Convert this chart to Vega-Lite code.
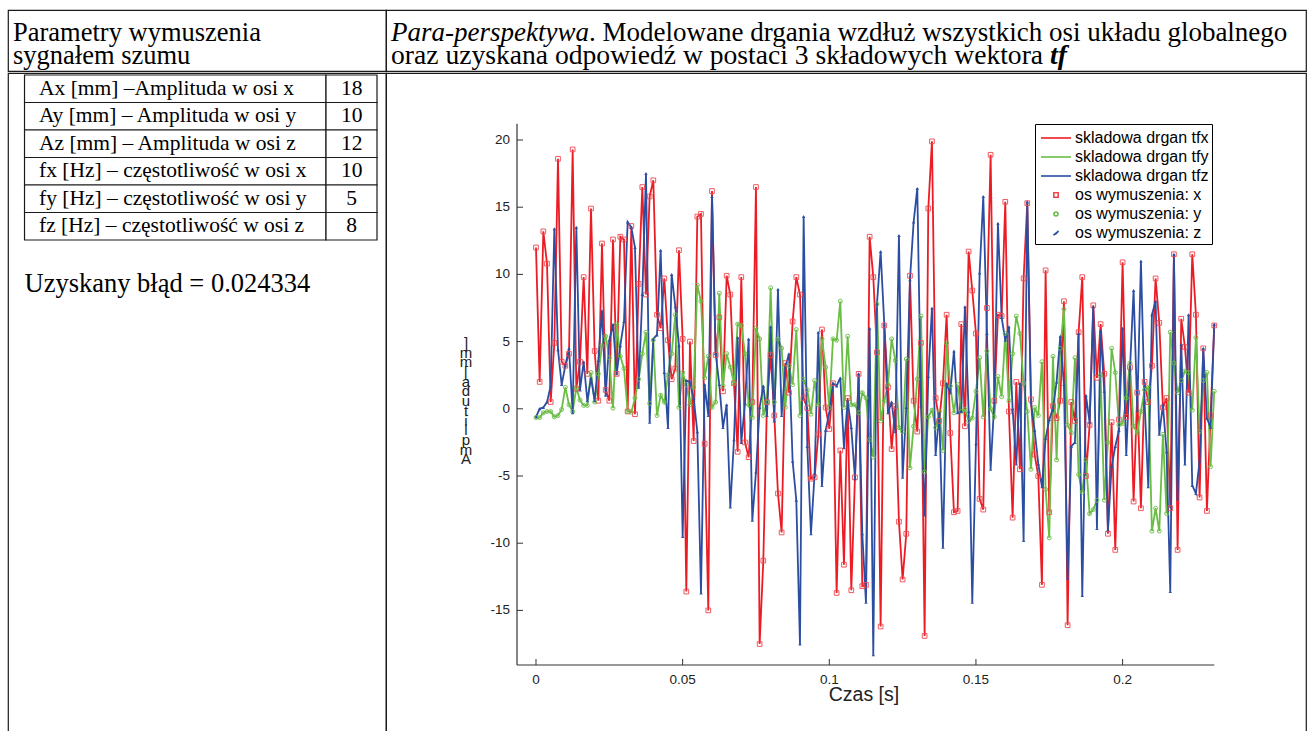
{
"$schema": "https://vega.github.io/schema/vega-lite/v6.json",
"padding": {"left": 7, "top": 9, "right": 0, "bottom": 0},
"background": "white",
"spacing": 0,
"config": {
  "view": {"stroke": "#1a1a1a", "strokeWidth": 1.2},
  "concat": {"spacing": 0}
},
"datasets": {
"tab": [
{"r":"1","l":"Ax [mm] –Amplituda w osi x","v":"18"},
{"r":"2","l":"Ay [mm] – Amplituda w osi y","v":"10"},
{"r":"3","l":"Az [mm] – Amplituda w osi z","v":"12"},
{"r":"4","l":"fx [Hz] – częstotliwość w osi x","v":"10"},
{"r":"5","l":"fy [Hz] – częstotliwość w osi y","v":"5"},
{"r":"6","l":"fz [Hz] – częstotliwość w osi z","v":"8"}
],
"xt": [{"v":0,"s":"0"},{"v":0.05,"s":"0.05"},{"v":0.1,"s":"0.1"},{"v":0.15,"s":"0.15"},{"v":0.2,"s":"0.2"}],
"yt": [{"v":-15,"s":"-15"},{"v":-10,"s":"-10"},{"v":-5,"s":"-5"},{"v":0,"s":"0"},{"v":5,"s":"5"},{"v":10,"s":"10"},{"v":15,"s":"15"},{"v":20,"s":"20"}],
"d": [
{"t":0,"x":12.0,"y":-0.65,"z":-0.6},
{"t":0.00125,"x":2.0,"y":-0.65,"z":0.0},
{"t":0.0025,"x":13.2,"y":-0.3,"z":0.1},
{"t":0.00375,"x":10.8,"y":-0.2,"z":0.5},
{"t":0.005,"x":0.5,"y":-0.2,"z":1.7},
{"t":0.00625,"x":4.9,"y":-0.6,"z":13.4},
{"t":0.0075,"x":18.6,"y":-0.5,"z":4.4},
{"t":0.00875,"x":3.5,"y":-0.05,"z":1.8},
{"t":0.01,"x":3.2,"y":1.6,"z":3.2},
{"t":0.01125,"x":4.1,"y":0.3,"z":4.5},
{"t":0.0125,"x":19.3,"y":-0.2,"z":-0.3},
{"t":0.01375,"x":1.5,"y":1.55,"z":13.5},
{"t":0.015,"x":3.5,"y":0.65,"z":1.4},
{"t":0.01625,"x":9.8,"y":0.25,"z":3.5},
{"t":0.0175,"x":2.6,"y":0.25,"z":0.6},
{"t":0.01875,"x":14.9,"y":2.7,"z":2.3},
{"t":0.02,"x":4.3,"y":0.5,"z":0.6},
{"t":0.02125,"x":0.6,"y":2.6,"z":3.6},
{"t":0.0225,"x":12.3,"y":4.7,"z":7.3},
{"t":0.02375,"x":1.4,"y":5.4,"z":1.0},
{"t":0.025,"x":0.6,"y":3.8,"z":5.1},
{"t":0.02625,"x":12.6,"y":0.05,"z":6.3},
{"t":0.0275,"x":2.6,"y":6.3,"z":2.6},
{"t":0.02875,"x":12.8,"y":3.9,"z":4.7},
{"t":0.03,"x":12.6,"y":3.0,"z":6.5},
{"t":0.03125,"x":-0.2,"y":-0.2,"z":13.9},
{"t":0.0325,"x":13.6,"y":-0.25,"z":13.5},
{"t":0.03375,"x":-0.4,"y":0.8,"z":12.0},
{"t":0.035,"x":9.3,"y":2.2,"z":1.6},
{"t":0.03625,"x":16.5,"y":4.1,"z":8.5},
{"t":0.0375,"x":8.5,"y":5.7,"z":17.5},
{"t":0.03875,"x":15.8,"y":0.4,"z":-1.0},
{"t":0.04,"x":17.0,"y":5.1,"z":5.2},
{"t":0.04125,"x":7.0,"y":-0.5,"z":5.5},
{"t":0.0425,"x":6.0,"y":1.0,"z":11.8},
{"t":0.04375,"x":9.7,"y":0.5,"z":2.7},
{"t":0.045,"x":5.1,"y":2.5,"z":-1.4},
{"t":0.04625,"x":2.2,"y":4.1,"z":10.0},
{"t":0.0475,"x":3.0,"y":7.0,"z":7.6},
{"t":0.04875,"x":11.8,"y":0.1,"z":4.7},
{"t":0.05,"x":5.2,"y":2.7,"z":-9.5},
{"t":0.05125,"x":-13.6,"y":1.8,"z":2.1},
{"t":0.0525,"x":5.0,"y":0.3,"z":2.0},
{"t":0.05375,"x":-2.4,"y":1.6,"z":0.8},
{"t":0.055,"x":14.3,"y":9.2,"z":-1.7},
{"t":0.05625,"x":14.5,"y":8.0,"z":-13.7},
{"t":0.0575,"x":-2.6,"y":2.3,"z":1.8},
{"t":0.05875,"x":-15.0,"y":3.9,"z":-0.5},
{"t":0.06,"x":16.2,"y":0.1,"z":15.8},
{"t":0.06125,"x":4.0,"y":0.5,"z":4.1},
{"t":0.0625,"x":6.8,"y":8.6,"z":1.8},
{"t":0.06375,"x":1.3,"y":1.7,"z":-1.4},
{"t":0.065,"x":9.9,"y":4.1,"z":0.3},
{"t":0.06625,"x":8.5,"y":3.1,"z":-7.3},
{"t":0.0675,"x":1.9,"y":1.9,"z":-2.3},
{"t":0.06875,"x":-3.2,"y":6.3,"z":5.3},
{"t":0.07,"x":9.8,"y":6.2,"z":-2.5},
{"t":0.07125,"x":-2.5,"y":4.1,"z":0.4},
{"t":0.0725,"x":-3.6,"y":0.3,"z":5.2},
{"t":0.07375,"x":0.5,"y":-0.65,"z":-8.3},
{"t":0.075,"x":16.5,"y":6.0,"z":-4.7},
{"t":0.07625,"x":-17.5,"y":5.2,"z":0.1},
{"t":0.0775,"x":-11.3,"y":-0.5,"z":1.7},
{"t":0.07875,"x":0.5,"y":0.5,"z":-0.5},
{"t":0.08,"x":4.0,"y":9.0,"z":6.1},
{"t":0.08125,"x":-0.5,"y":0.5,"z":-0.9},
{"t":0.0825,"x":-6.3,"y":5.2,"z":8.9},
{"t":0.08375,"x":-9.2,"y":4.5,"z":-0.5},
{"t":0.085,"x":3.4,"y":0.1,"z":3.1},
{"t":0.08625,"x":1.2,"y":3.2,"z":4.1},
{"t":0.0875,"x":6.5,"y":1.8,"z":-3.9},
{"t":0.08875,"x":9.8,"y":5.9,"z":-6.8},
{"t":0.09,"x":8.5,"y":-0.5,"z":-17.5},
{"t":0.09125,"x":0.8,"y":2.2,"z":14.3},
{"t":0.0925,"x":0.05,"y":1.4,"z":-2.8},
{"t":0.09375,"x":-5.2,"y":-0.4,"z":-9.3},
{"t":0.095,"x":-5.1,"y":2.1,"z":-4.8},
{"t":0.09625,"x":-1.9,"y":0.3,"z":5.7},
{"t":0.0975,"x":5.9,"y":5.2,"z":-5.7},
{"t":0.09875,"x":0.1,"y":3.1,"z":-1.6},
{"t":0.1,"x":-1.5,"y":0.1,"z":-0.3},
{"t":0.10125,"x":1.9,"y":5.2,"z":1.9},
{"t":0.1025,"x":-13.7,"y":5.1,"z":1.7},
{"t":0.10375,"x":-3.1,"y":8.0,"z":2.3},
{"t":0.105,"x":-11.6,"y":0.1,"z":-2.9},
{"t":0.10625,"x":0.8,"y":5.4,"z":0.6},
{"t":0.1075,"x":-13.5,"y":0.3,"z":-1.4},
{"t":0.10875,"x":-5.1,"y":0.3,"z":-5.2},
{"t":0.11,"x":2.6,"y":-0.3,"z":2.6},
{"t":0.11125,"x":-13.2,"y":1.2,"z":-9.3},
{"t":0.1125,"x":-13.1,"y":0.8,"z":-14.4},
{"t":0.11375,"x":12.8,"y":-2.3,"z":6.0},
{"t":0.115,"x":9.8,"y":-3.6,"z":-18.3},
{"t":0.11625,"x":4.2,"y":7.8,"z":7.8},
{"t":0.1175,"x":-16.2,"y":-0.9,"z":11.7},
{"t":0.11875,"x":6.2,"y":0.6,"z":6.3},
{"t":0.12,"x":1.6,"y":1.8,"z":-0.3},
{"t":0.12125,"x":-3.0,"y":5.2,"z":0.5},
{"t":0.1225,"x":0.2,"y":3.6,"z":-1.7},
{"t":0.12375,"x":-8.4,"y":-1.4,"z":12.9},
{"t":0.125,"x":-12.7,"y":-1.7,"z":-5.1},
{"t":0.12625,"x":-9.3,"y":3.7,"z":0.1},
{"t":0.1275,"x":9.9,"y":-4.4,"z":9.6},
{"t":0.12875,"x":0.6,"y":-1.3,"z":13.9},
{"t":0.13,"x":-1.7,"y":2.2,"z":16.4},
{"t":0.13125,"x":4.9,"y":6.9,"z":0.2},
{"t":0.1325,"x":-16.9,"y":-4.7,"z":-7.9},
{"t":0.13375,"x":14.9,"y":-0.6,"z":2.4},
{"t":0.135,"x":19.9,"y":-0.1,"z":7.5},
{"t":0.13625,"x":0.8,"y":-1.4,"z":-3.4},
{"t":0.1375,"x":-0.9,"y":-0.2,"z":-0.3},
{"t":0.13875,"x":1.9,"y":-3.1,"z":-10.3},
{"t":0.14,"x":7.0,"y":4.9,"z":1.9},
{"t":0.14125,"x":-1.8,"y":1.7,"z":1.2},
{"t":0.1425,"x":-7.7,"y":-0.3,"z":4.3},
{"t":0.14375,"x":-7.6,"y":1.8,"z":-0.3},
{"t":0.145,"x":6.3,"y":-0.2,"z":-0.2},
{"t":0.14625,"x":-1.3,"y":-0.05,"z":7.6},
{"t":0.1475,"x":11.7,"y":-0.9,"z":-0.2},
{"t":0.14875,"x":8.8,"y":-0.7,"z":-14.4},
{"t":0.15,"x":5.6,"y":1.3,"z":-2.6},
{"t":0.15125,"x":-6.7,"y":3.8,"z":10.1},
{"t":0.1525,"x":-7.5,"y":-0.6,"z":15.8},
{"t":0.15375,"x":7.5,"y":4.3,"z":5.6},
{"t":0.155,"x":18.9,"y":0.0,"z":-4.5},
{"t":0.15625,"x":0.6,"y":-0.6,"z":0.5},
{"t":0.1575,"x":7.0,"y":2.4,"z":13.8},
{"t":0.15875,"x":6.9,"y":0.9,"z":6.8},
{"t":0.16,"x":15.4,"y":5.6,"z":5.1},
{"t":0.16125,"x":-0.2,"y":0.6,"z":6.1},
{"t":0.1625,"x":-8.1,"y":4.1,"z":0.0},
{"t":0.16375,"x":2.0,"y":6.9,"z":-4.1},
{"t":0.165,"x":-4.5,"y":5.6,"z":1.9},
{"t":0.16625,"x":9.7,"y":1.9,"z":-9.8},
{"t":0.1675,"x":15.3,"y":-0.2,"z":15.4},
{"t":0.16875,"x":0.7,"y":-4.5,"z":0.5},
{"t":0.17,"x":-3.4,"y":0.1,"z":-1.6},
{"t":0.17125,"x":-5.0,"y":-0.5,"z":-4.1},
{"t":0.1725,"x":-13.1,"y":3.5,"z":-5.8},
{"t":0.17375,"x":10.3,"y":-6.0,"z":-2.2},
{"t":0.175,"x":-7.7,"y":-9.6,"z":-0.8},
{"t":0.17625,"x":0.2,"y":3.9,"z":0.0},
{"t":0.1775,"x":-0.7,"y":-3.8,"z":2.0},
{"t":0.17875,"x":0.6,"y":4.5,"z":5.4},
{"t":0.18,"x":8.0,"y":7.4,"z":1.8},
{"t":0.18125,"x":-16.1,"y":-1.2,"z":-12.6},
{"t":0.1825,"x":0.5,"y":-1.8,"z":-2.8},
{"t":0.18375,"x":-0.9,"y":3.8,"z":-2.5},
{"t":0.185,"x":5.7,"y":-4.9,"z":5.6},
{"t":0.18625,"x":9.8,"y":-6.2,"z":-13.9},
{"t":0.1875,"x":-5.0,"y":-3.8,"z":1.0},
{"t":0.18875,"x":-1.2,"y":-7.8,"z":-1.0},
{"t":0.19,"x":7.7,"y":-7.5,"z":7.6},
{"t":0.19125,"x":2.3,"y":-6.8,"z":-8.9},
{"t":0.1925,"x":6.3,"y":2.5,"z":5.8},
{"t":0.19375,"x":2.6,"y":-6.8,"z":1.3},
{"t":0.195,"x":-9.3,"y":-2.5,"z":-9.0},
{"t":0.19625,"x":-1.0,"y":4.5,"z":-4.3},
{"t":0.1975,"x":-10.5,"y":2.7,"z":-2.8},
{"t":0.19875,"x":-0.8,"y":-1.2,"z":-1.6},
{"t":0.2,"x":10.9,"y":-1.1,"z":6.0},
{"t":0.20125,"x":-0.6,"y":0.8,"z":-3.4},
{"t":0.2025,"x":3.1,"y":3.4,"z":2.9},
{"t":0.20375,"x":-6.9,"y":-1.3,"z":8.8},
{"t":0.205,"x":1.2,"y":-1.8,"z":-0.1},
{"t":0.20625,"x":-7.4,"y":-0.2,"z":11.0},
{"t":0.2075,"x":2.0,"y":1.4,"z":0.5},
{"t":0.20875,"x":0.5,"y":1.6,"z":-5.8},
{"t":0.21,"x":3.2,"y":-9.1,"z":7.0},
{"t":0.21125,"x":9.7,"y":-7.4,"z":8.0},
{"t":0.2125,"x":6.4,"y":-9.1,"z":-1.9},
{"t":0.21375,"x":0.1,"y":-1.9,"z":0.3},
{"t":0.215,"x":0.8,"y":-7.8,"z":-3.2},
{"t":0.21625,"x":-7.4,"y":5.7,"z":-13.6},
{"t":0.2175,"x":11.5,"y":3.4,"z":11.5},
{"t":0.21875,"x":-10.5,"y":1.2,"z":-6.7},
{"t":0.22,"x":6.7,"y":2.1,"z":4.8},
{"t":0.22125,"x":4.6,"y":2.8,"z":-4.1},
{"t":0.2225,"x":1.2,"y":2.7,"z":7.0},
{"t":0.22375,"x":11.5,"y":-0.1,"z":-5.7},
{"t":0.225,"x":7.0,"y":5.3,"z":-6.3},
{"t":0.22625,"x":-6.6,"y":-1.7,"z":-3.9},
{"t":0.2275,"x":4.5,"y":2.1,"z":4.5},
{"t":0.22875,"x":-7.6,"y":2.7,"z":-0.7},
{"t":0.23,"x":-0.5,"y":-4.3,"z":-1.4},
{"t":0.23125,"x":6.2,"y":1.3,"z":6.3}
]
},
"vconcat": [
{
"spacing": 0,
"bounds": "flush",
"hconcat": [
{
"width": 378, "height": 61,
"data": {"values": [{"k": 1, "s": "Parametry wymuszenia"}, {"k": 2, "s": "sygnałem szumu"}]},
"mark": {"type": "text", "align": "left", "baseline": "alphabetic", "font": "Liberation Serif", "fontSize": 26.5, "color": "black", "dx": 5},
"encoding": {
"x": {"datum": 0, "type": "quantitative", "scale": {"domain": [0, 1]}, "axis": null},
"y": {"field": "k", "type": "quantitative", "scale": {"domain": [-0.348, 2.304], "reverse": true, "nice": false, "zero": false}, "axis": null},
"text": {"field": "s"}
}
},
{
"width": 920, "height": 61,
"encoding": {
"x": {"datum": 0, "type": "quantitative", "scale": {"domain": [0, 1]}, "axis": null},
"y": {"field": "k", "type": "quantitative", "scale": {"domain": [-0.348, 2.304], "reverse": true, "nice": false, "zero": false}, "axis": null},
"text": {"field": "s"}
},
"layer": [
{"data": {"values": [{"k": 1, "s": "Para-perspektywa"}]},
 "mark": {"type": "text", "align": "left", "baseline": "alphabetic", "font": "Liberation Serif", "fontSize": 27, "fontStyle": "italic", "color": "black", "dx": 5}},
{"data": {"values": [{"k": 1, "s": ". Modelowane drgania wzdłuż wszystkich osi układu globalnego"}]},
 "mark": {"type": "text", "align": "left", "baseline": "alphabetic", "font": "Liberation Serif", "fontSize": 27, "color": "black", "dx": 203}},
{"data": {"values": [{"k": 2, "s": "oraz uzyskana odpowiedź w postaci 3 składowych wektora"}]},
 "mark": {"type": "text", "align": "left", "baseline": "alphabetic", "font": "Liberation Serif", "fontSize": 27.6, "color": "black", "dx": 5}},
{"data": {"values": [{"k": 2, "s": "tf"}]},
 "mark": {"type": "text", "align": "left", "baseline": "alphabetic", "font": "Liberation Serif", "fontSize": 27.6, "fontStyle": "italic", "fontWeight": "bold", "color": "black", "dx": 664}}
]
}
]
},
{
"spacing": 0,
"bounds": "flush",
"hconcat": [
{
"width": 378, "height": 662,
"layer": [
{"data": {"name": "tab"},
 "mark": {"type": "rect", "fill": "white", "stroke": "#1a1a1a", "strokeWidth": 1.2},
 "encoding": {
  "y": {"field": "r", "type": "ordinal", "scale": {"type": "band", "domain": ["1","2","3","4","5","6","g","u"], "range": [2, 222], "paddingInner": 0, "paddingOuter": 0}, "axis": null},
  "x": {"datum": 0.0437, "type": "quantitative", "scale": {"domain": [0, 1], "nice": false, "zero": false}, "axis": null},
  "x2": {"datum": 0.8413}
 }},
{"data": {"name": "tab"},
 "mark": {"type": "rect", "fill": "white", "stroke": "#1a1a1a", "strokeWidth": 1.2},
 "encoding": {
  "y": {"field": "r", "type": "ordinal", "axis": null},
  "x": {"datum": 0.8413, "type": "quantitative", "axis": null},
  "x2": {"datum": 0.9762}
 }},
{"data": {"name": "tab"},
 "mark": {"type": "text", "align": "left", "baseline": "middle", "font": "Liberation Serif", "fontSize": 21.5, "color": "black"},
 "encoding": {
  "y": {"field": "r", "type": "ordinal", "axis": null},
  "x": {"datum": 0.082, "type": "quantitative", "axis": null},
  "text": {"field": "l"}
 }},
{"data": {"name": "tab"},
 "mark": {"type": "text", "align": "center", "baseline": "middle", "font": "Liberation Serif", "fontSize": 21.5, "color": "black"},
 "encoding": {
  "y": {"field": "r", "type": "ordinal", "axis": null},
  "x": {"datum": 0.9093, "type": "quantitative", "axis": null},
  "text": {"field": "v"}
 }},
{"data": {"values": [{"r": "u", "s": "Uzyskany błąd = 0.024334"}]},
 "mark": {"type": "text", "align": "left", "baseline": "middle", "font": "Liberation Serif", "fontSize": 26.5, "color": "black", "dy": 3},
 "encoding": {
  "y": {"field": "r", "type": "ordinal", "axis": null},
  "x": {"datum": 0.0437, "type": "quantitative", "axis": null},
  "text": {"field": "s"}
 }}
]
},
{
"width": 920, "height": 662,
"data": {"name": "d"},
"layer": [
{"mark": {"type": "line", "color": "#ed1c24", "strokeWidth": 1.8},
 "encoding": {
  "x": {"field": "t", "type": "quantitative", "scale": {"domain": [-0.051142, 0.26253], "nice": false, "zero": false}, "axis": null},
  "y": {"field": "x", "type": "quantitative", "scale": {"domain": [-24.271, 24.985], "nice": false, "zero": false}, "axis": null}
 }},
{"mark": {"type": "line", "color": "#6abd45", "strokeWidth": 1.8},
 "encoding": {
  "x": {"field": "t", "type": "quantitative", "axis": null},
  "y": {"field": "y", "type": "quantitative", "axis": null}
 }},
{"mark": {"type": "line", "color": "#2c4ea2", "strokeWidth": 1.8},
 "encoding": {
  "x": {"field": "t", "type": "quantitative", "axis": null},
  "y": {"field": "z", "type": "quantitative", "axis": null}
 }},
{"mark": {"type": "point", "shape": "square", "size": 22, "filled": false, "color": "#f0484f", "strokeWidth": 1, "opacity": 0.9},
 "encoding": {
  "x": {"field": "t", "type": "quantitative", "axis": null},
  "y": {"field": "x", "type": "quantitative", "axis": null}
 }},
{"mark": {"type": "point", "shape": "circle", "size": 16, "filled": false, "color": "#6abd45", "strokeWidth": 1, "opacity": 0.9},
 "encoding": {
  "x": {"field": "t", "type": "quantitative", "axis": null},
  "y": {"field": "y", "type": "quantitative", "axis": null}
 }},
{"mark": {"type": "point", "shape": "triangle-up", "size": 12, "filled": true, "color": "#2c4ea2", "opacity": 0.95},
 "encoding": {
  "x": {"field": "t", "type": "quantitative", "axis": null},
  "y": {"field": "z", "type": "quantitative", "axis": null}
 }},
{"data": {"values": [{}]},
 "mark": {"type": "rule", "color": "#333333", "strokeWidth": 1.2},
 "encoding": {
  "x": {"datum": -0.006478, "type": "quantitative", "axis": null},
  "y": {"datum": -19.063, "type": "quantitative", "axis": null},
  "y2": {"datum": 21.2}
 }},
{"data": {"values": [{}]},
 "mark": {"type": "rule", "color": "#333333", "strokeWidth": 1.2},
 "encoding": {
  "x": {"datum": -0.006478, "type": "quantitative", "axis": null},
  "x2": {"datum": 0.23125},
  "y": {"datum": -19.063, "type": "quantitative", "axis": null}
 }},
{"data": {"name": "xt"},
 "mark": {"type": "rule", "color": "#333333", "strokeWidth": 1},
 "encoding": {
  "x": {"field": "v", "type": "quantitative", "axis": null},
  "y": {"datum": -19.063, "type": "quantitative", "axis": null},
  "y2": {"datum": -18.617}
 }},
{"data": {"name": "yt"},
 "mark": {"type": "rule", "color": "#333333", "strokeWidth": 1},
 "encoding": {
  "y": {"field": "v", "type": "quantitative", "axis": null},
  "x": {"datum": -0.006478, "type": "quantitative", "axis": null},
  "x2": {"datum": -0.004432}
 }},
{"data": {"name": "xt"},
 "mark": {"type": "text", "align": "center", "baseline": "top", "font": "Liberation Sans", "fontSize": 13.5, "color": "#222222", "dy": 8},
 "encoding": {
  "x": {"field": "v", "type": "quantitative", "axis": null},
  "y": {"datum": -19.063, "type": "quantitative", "axis": null},
  "text": {"field": "s"}
 }},
{"data": {"name": "yt"},
 "mark": {"type": "text", "align": "right", "baseline": "middle", "font": "Liberation Sans", "fontSize": 13.5, "color": "#222222", "dx": -7},
 "encoding": {
  "y": {"field": "v", "type": "quantitative", "axis": null},
  "x": {"datum": -0.006478, "type": "quantitative", "axis": null},
  "text": {"field": "s"}
 }},
{"data": {"values": [{"s": "Czas [s]"}]},
 "mark": {"type": "text", "align": "center", "baseline": "middle", "font": "Liberation Sans", "fontSize": 19.5, "color": "#222222", "dy": 30},
 "encoding": {
  "x": {"datum": 0.11183, "type": "quantitative", "axis": null},
  "y": {"datum": -19.063, "type": "quantitative", "axis": null},
  "text": {"field": "s"}
 }},
{"data": {"values": [{"s": ["]", "m", "m", "[", " ", "a", "d", "u", "t", "i", "l", "p", "m", "A"]}]},
 "mark": {"type": "text", "align": "center", "baseline": "middle", "font": "Liberation Sans", "fontSize": 15, "lineHeight": 9.7, "color": "#222222"},
 "encoding": {
  "x": {"datum": -0.02387, "type": "quantitative", "axis": null},
  "y": {"datum": 4.9, "type": "quantitative", "axis": null},
  "text": {"field": "s"}
 }},
{"data": {"values": [{"n": "skladowa drgan tfx"}, {"n": "skladowa drgan tfy"}, {"n": "skladowa drgan tfz"}, {"n": "os wymuszenia: x"}, {"n": "os wymuszenia: y"}, {"n": "os wymuszenia: z"}]},
 "mark": {"type": "point", "opacity": 0, "filled": false},
 "encoding": {
  "color": {"field": "n", "type": "nominal",
   "scale": {"domain": ["skladowa drgan tfx", "skladowa drgan tfy", "skladowa drgan tfz", "os wymuszenia: x", "os wymuszenia: y", "os wymuszenia: z"], "range": ["#ed1c24", "#6abd45", "#2c4ea2", "#f0484f", "#6abd45", "#2c4ea2"]},
   "legend": {"title": null, "orient": "none", "legendX": 1027, "legendY": 114, "direction": "vertical", "strokeColor": "black", "fillColor": "white", "padding": 3, "symbolSize": 400, "symbolStrokeWidth": 1.6, "symbolOffset": 7, "labelFont": "Liberation Sans", "labelFontSize": 16, "labelColor": "black", "labelOffset": 8, "rowPadding": 0, "labelLimit": 300}},
  "shape": {"field": "n", "type": "nominal",
   "scale": {"domain": ["skladowa drgan tfx", "skladowa drgan tfy", "skladowa drgan tfz", "os wymuszenia: x", "os wymuszenia: y", "os wymuszenia: z"], "range": ["M-1.5,0H1.5", "M-1.5,0H1.5", "M-1.5,0H1.5", "M-0.22,-0.22H0.22V0.22H-0.22Z", "M0.2,0A0.2,0.2,0,1,1,-0.2,0A0.2,0.2,0,1,1,0.2,0Z", "M-0.25,0.2L0.25,-0.2L0.02,0.05Z"]},
   "legend": {"title": null, "orient": "none", "legendX": 1027, "legendY": 114, "direction": "vertical", "strokeColor": "black", "fillColor": "white", "padding": 3, "symbolSize": 400, "symbolStrokeWidth": 1.6, "symbolOffset": 7, "labelFont": "Liberation Sans", "labelFontSize": 16, "labelColor": "black", "labelOffset": 8, "rowPadding": 0, "labelLimit": 300}}
 }}
]
}
]
}
]
}
